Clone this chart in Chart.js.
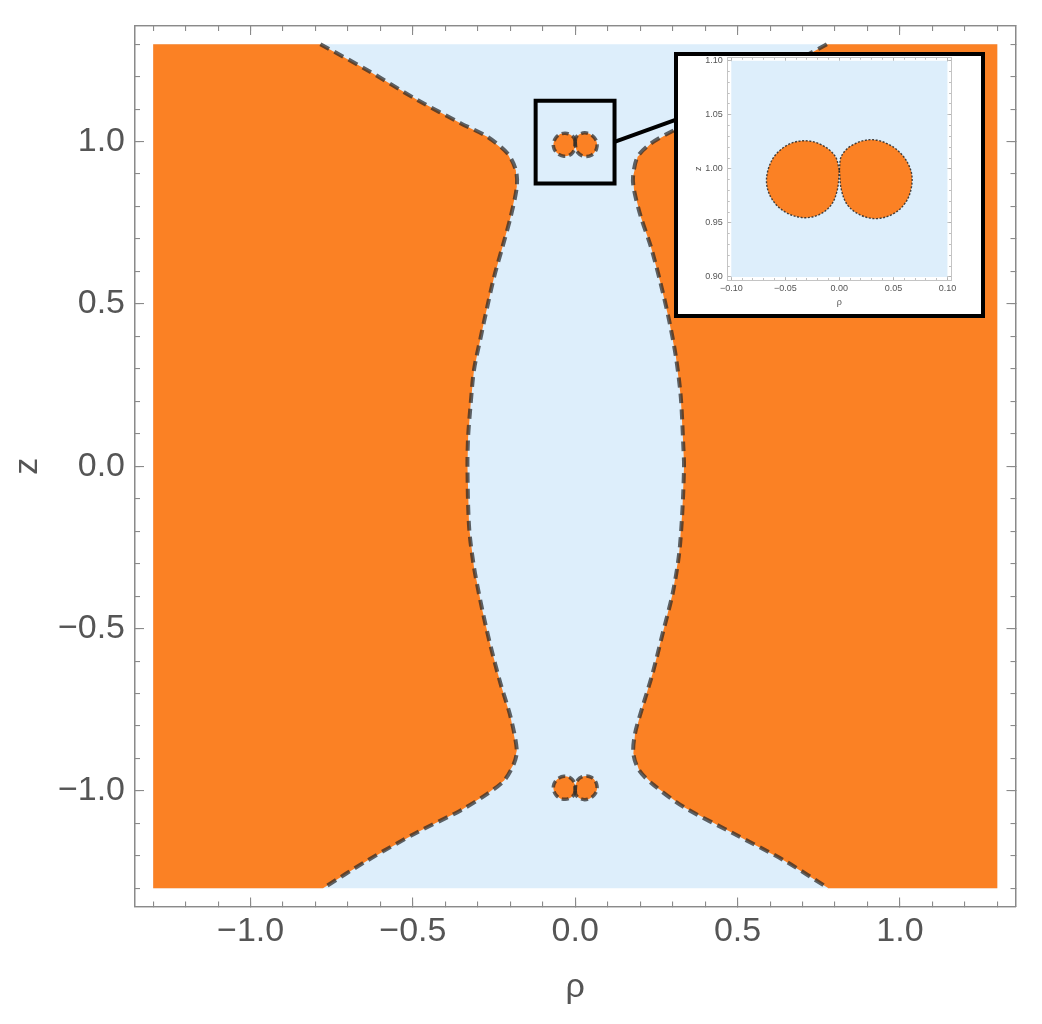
<!DOCTYPE html>
<html lang="en">
<head>
<meta charset="UTF-8" />
<title>Region plot in the rho-z plane</title>
<script src="https://cdn.jsdelivr.net/npm/chart.js"></script>
<style>
  body { margin: 0; background: #fff; }
  #wrap { position: relative; width: 1042px; height: 1024px; }
  #main { position: absolute; left: 0; top: 0; }
  #insetBox { position: absolute; left: 674px; top: 52px; width: 311px; height: 266px;
              box-sizing: border-box; border: 4px solid #000; background: #fff; }
  #inset { display: block; }
</style>
</head>
<body>
<div id="wrap">
  <canvas id="main" width="1042" height="1024"></canvas>
  <div id="insetBox"><canvas id="inset" width="303" height="258"></canvas></div>
</div>
<script>
// plot range and axis range of the main plot
const PLOT_MIN = -1.3, PLOT_MAX = 1.3;
const AXIS_RANGE = [-1.356, 1.356];

// boundary of the left orange region, top to bottom  [rho, z]
const leftEdge = [
  [-0.785, 1.300], [-0.640, 1.220], [-0.486, 1.128], [-0.352, 1.056], [-0.271, 1.015],
  [-0.209, 0.964], [-0.183, 0.912], [-0.180, 0.861], [-0.199, 0.768], [-0.224, 0.676],
  [-0.250, 0.583], [-0.271, 0.491], [-0.291, 0.398], [-0.312, 0.296], [-0.322, 0.193],
  [-0.330, 0.090], [-0.332, 0.000], [-0.327, -0.187], [-0.312, -0.310], [-0.286, -0.444],
  [-0.260, -0.557], [-0.230, -0.670], [-0.199, -0.773], [-0.180, -0.875], [-0.189, -0.916],
  [-0.219, -0.968], [-0.271, -1.009], [-0.353, -1.060], [-0.486, -1.127], [-0.640, -1.214],
  [-0.777, -1.300]
];

// boundary of the right orange region, top to bottom
const rightEdge = [
  [0.775, 1.300], [0.640, 1.225], [0.490, 1.135], [0.360, 1.062], [0.304, 1.035],
  [0.233, 0.994], [0.192, 0.953], [0.178, 0.892], [0.181, 0.851], [0.202, 0.768],
  [0.233, 0.676], [0.263, 0.563], [0.289, 0.450], [0.310, 0.337], [0.325, 0.214],
  [0.333, 0.059], [0.335, 0.000], [0.330, -0.136], [0.320, -0.269], [0.300, -0.392],
  [0.269, -0.516], [0.238, -0.639], [0.207, -0.742], [0.184, -0.824], [0.179, -0.885],
  [0.197, -0.937], [0.243, -0.983], [0.335, -1.050], [0.489, -1.132], [0.643, -1.214],
  [0.780, -1.300]
];

// the two small lobes near z = +1
const lobeUpLeft = [
  [0.000, 0.999], [-0.004, 1.012], [-0.016, 1.022], [-0.031, 1.026], [-0.046, 1.023],
  [-0.059, 1.013], [-0.066, 0.999], [-0.067, 0.984], [-0.061, 0.970], [-0.050, 0.960],
  [-0.035, 0.955], [-0.020, 0.957], [-0.008, 0.966], [-0.002, 0.980], [0.000, 0.999]
];
const lobeUpRight = [
  [0.000, 0.999], [0.002, 1.012], [0.012, 1.022], [0.029, 1.027], [0.045, 1.023],
  [0.058, 1.013], [0.066, 0.999], [0.067, 0.985], [0.062, 0.970], [0.051, 0.959],
  [0.035, 0.954], [0.020, 0.957], [0.008, 0.966], [0.002, 0.980], [0.000, 0.999]
];
// and near z = -1
const lobeLowLeft = [
  [0.000, -0.999], [-0.004, -1.012], [-0.016, -1.022], [-0.031, -1.026], [-0.046, -1.023],
  [-0.059, -1.013], [-0.066, -0.999], [-0.067, -0.984], [-0.061, -0.970], [-0.050, -0.960],
  [-0.035, -0.955], [-0.020, -0.957], [-0.008, -0.966], [-0.002, -0.980], [0.000, -0.999]
];
const lobeLowRight = [
  [0.000, -0.999], [0.002, -1.012], [0.012, -1.022], [0.029, -1.027], [0.045, -1.023],
  [0.058, -1.013], [0.066, -0.999], [0.067, -0.985], [0.062, -0.970], [0.051, -0.959],
  [0.035, -0.954], [0.020, -0.957], [0.008, -0.966], [0.002, -0.980], [0.000, -0.999]
];

// zoom marker and the line to the inset
const zoomBox = [[-0.122, 0.871], [0.121, 0.871], [0.121, 1.126], [-0.122, 1.126], [-0.122, 0.871]];
const zoomLink = [[0.121, 0.999], [0.315, 1.069]];

// inset ranges
const INSET_RHO = [-0.1, 0.1], INSET_Z = [0.9, 1.1];
const INSET_AXIS_RHO = [-0.1033, 0.1033], INSET_AXIS_Z = [0.8972, 1.1028];

const FONT = "'Liberation Sans', Arial, sans-serif";
const ORANGE = '#fb8124';
const SKY = '#ddeefb';
const DASH = 'rgba(40,40,40,0.72)';

const pts = a => a.map(([x, y]) => ({ x, y }));
const rect = (xr, yr) => [[xr[0], yr[0]], [xr[1], yr[0]], [xr[1], yr[1]], [xr[0], yr[1]]];

function area(data, color, tension, order) {
  return { data: pts(data), showLine: true, fill: 'shape', backgroundColor: color,
           borderColor: 'transparent', borderWidth: 0, pointRadius: 0, tension, order };
}
function outline(data, color, width, dash, tension, order, cap) {
  return { data: pts(data), showLine: true, fill: false, borderColor: color, borderWidth: width,
           borderDash: dash, borderJoinStyle: 'miter', borderCapStyle: cap || 'butt',
           pointRadius: 0, tension, order };
}

function frameAxis(pos, range, step, len, opt) {
  const horiz = pos === 'top' || pos === 'bottom';
  return {
    type: 'linear', position: pos, min: range[0], max: range[1],
    weight: opt.weight || 0,
    afterFit: s => {
      if (horiz) s.height = opt.size || 0; else s.width = opt.size || 0;
      // frame is fixed by the layout padding, labels must not push it
      s.paddingTop = s.paddingBottom = s.paddingLeft = s.paddingRight = 0;
    },
    grid: { drawOnChartArea: false, drawTicks: true, tickLength: -len,
            color: opt.tickColor, lineWidth: opt.tickWidth },
    border: { display: true, color: opt.frameColor, width: opt.frameWidth },
    ticks: {
      display: !!opt.format, stepSize: step, includeBounds: false, autoSkip: false,
      maxRotation: 0, minRotation: 0, padding: opt.pad || 0, color: opt.labelColor,
      font: { family: FONT, size: opt.fontSize }, callback: opt.format || (() => '')
    },
    title: opt.title
      ? { display: true, text: opt.title, color: opt.labelColor,
          font: { family: FONT, size: opt.titleSize }, padding: opt.titlePad }
      : { display: false }
  };
}

const fmt1 = v => (Math.round(v * 10) / 10).toFixed(1).replace('-', '\u2212');
const fmt2 = v => (Math.round(v * 100) / 100).toFixed(2).replace('-', '\u2212');

// ---- main plot ----
const M = { tickColor: '#8a8a8a', tickWidth: 1.1, frameColor: '#8a8a8a', frameWidth: 1.3,
            labelColor: '#555555', fontSize: 34, titleSize: 34 };

new Chart(document.getElementById('main'), {
  type: 'scatter',
  data: {
    datasets: [
      outline(zoomBox, '#000', 4, [], 0, 0, 'square'),
      outline(zoomLink, '#000', 4, [], 0, 0),
      outline(leftEdge, DASH, 4, [10, 6], 0.3, 1),
      outline(rightEdge, DASH, 4, [10, 6], 0.3, 1),
      outline(lobeUpLeft, DASH, 3.5, [7, 4], 0.35, 1),
      outline(lobeUpRight, DASH, 3.5, [7, 4], 0.35, 1),
      outline(lobeLowLeft, DASH, 3.5, [7, 4], 0.35, 1),
      outline(lobeLowRight, DASH, 3.5, [7, 4], 0.35, 1),
      area([[PLOT_MIN, PLOT_MAX], ...leftEdge, [PLOT_MIN, PLOT_MIN]], ORANGE, 0, 2),
      area([[PLOT_MAX, PLOT_MAX], ...rightEdge, [PLOT_MAX, PLOT_MIN]], ORANGE, 0, 2),
      area(lobeUpLeft, ORANGE, 0.35, 2),
      area(lobeUpRight, ORANGE, 0.35, 2),
      area(lobeLowLeft, ORANGE, 0.35, 2),
      area(lobeLowRight, ORANGE, 0.35, 2),
      area(rect([PLOT_MIN, PLOT_MAX], [PLOT_MIN, PLOT_MAX]), SKY, 0, 3)
    ]
  },
  options: {
    responsive: false,
    animation: false,
    events: [],
    layout: { padding: { left: 0, top: 26, right: 26.5, bottom: 0 } },
    plugins: { legend: { display: false }, tooltip: { enabled: false } },
    scales: {
      x: frameAxis('bottom', AXIS_RANGE, 0.5, 9, { ...M, weight: 1, size: 117.5, format: fmt1, pad: 14,
                    title: 'ρ', titlePad: { top: 0, bottom: 16 } }),
      xMinor: frameAxis('bottom', AXIS_RANGE, 0.1, 5, M),
      xTop: frameAxis('top', AXIS_RANGE, 0.5, 9, { ...M, weight: 1 }),
      xTopMinor: frameAxis('top', AXIS_RANGE, 0.1, 5, M),
      y: frameAxis('left', AXIS_RANGE, 0.5, 9, { ...M, weight: 1, size: 135, format: fmt1, pad: 19,
                    title: 'z', titlePad: { top: 7, bottom: 0 } }),
      yMinor: frameAxis('left', AXIS_RANGE, 0.1, 5, M),
      yRight: frameAxis('right', AXIS_RANGE, 0.5, 9, { ...M, weight: 1 }),
      yRightMinor: frameAxis('right', AXIS_RANGE, 0.1, 5, M)
    }
  }
});

// ---- inset ----
const I = { tickColor: '#b0b0b0', tickWidth: 0.8, frameColor: '#c4c4c4', frameWidth: 1,
            labelColor: '#555', fontSize: 9, titleSize: 9 };
const DOTS = 'rgba(40,40,40,0.85)';

new Chart(document.getElementById('inset'), {
  type: 'scatter',
  data: {
    datasets: [
      outline(lobeUpLeft, DOTS, 1.4, [2, 1.6], 0.35, 1),
      outline(lobeUpRight, DOTS, 1.4, [2, 1.6], 0.35, 1),
      area(lobeUpLeft, ORANGE, 0.35, 2),
      area(lobeUpRight, ORANGE, 0.35, 2),
      area(rect(INSET_RHO, INSET_Z), SKY, 0, 3)
    ]
  },
  options: {
    responsive: false,
    animation: false,
    events: [],
    layout: { padding: { left: 0, top: 1.7, right: 30, bottom: 0 } },
    plugins: { legend: { display: false }, tooltip: { enabled: false } },
    scales: {
      x: frameAxis('bottom', INSET_AXIS_RHO, 0.05, 4, { ...I, weight: 1, size: 34, format: fmt2, pad: 7,
                    title: 'ρ', titlePad: { top: 0, bottom: 6 } }),
      xMinor: frameAxis('bottom', INSET_AXIS_RHO, 0.01, 2, I),
      xTop: frameAxis('top', INSET_AXIS_RHO, 0.05, 4, { ...I, weight: 1 }),
      xTopMinor: frameAxis('top', INSET_AXIS_RHO, 0.01, 2, I),
      y: frameAxis('left', INSET_AXIS_Z, 0.05, 4, { ...I, weight: 1, size: 49.7, format: fmt2, pad: 9,
                    title: 'z', titlePad: { top: 15, bottom: 0 } }),
      yMinor: frameAxis('left', INSET_AXIS_Z, 0.01, 2, I),
      yRight: frameAxis('right', INSET_AXIS_Z, 0.05, 4, { ...I, weight: 1 }),
      yRightMinor: frameAxis('right', INSET_AXIS_Z, 0.01, 2, I)
    }
  }
});
</script>
</body>
</html>
